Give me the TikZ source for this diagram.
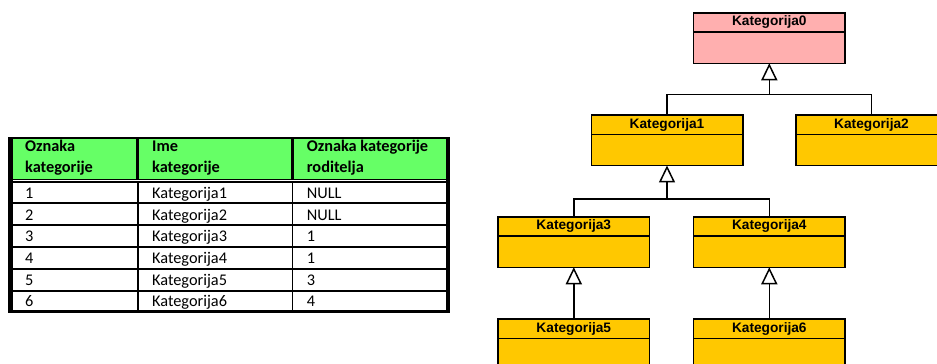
\documentclass[tikz,border=0pt]{standalone}
\usepackage{fontspec}
\setmainfont{Carlito}
\newfontfamily\arialfont{Liberation Sans}
\usetikzlibrary{arrows.meta}
\definecolor{pinkbox}{HTML}{FFAFAF}
\definecolor{goldbox}{HTML}{FFC800}
\definecolor{hdrgreen}{HTML}{66FF66}
\begin{document}
\begin{tikzpicture}[x=1pt,y=-1pt,
  umlbox/.style={draw=black, line width=1.5pt, minimum width=151.5pt, minimum height=50.5pt, inner sep=0pt, outer sep=0pt},
  umltitle/.style={font=\arialfont\bfseries\fontsize{13.7}{15}\selectfont, inner sep=0pt},
  conn/.style={draw=black, line width=1.5pt},
  gen/.style={draw=black, line width=1.5pt, -{Triangle[length=17pt,width=16pt,fill=white]}},
  cell/.style={anchor=base west, inner sep=0pt, font=\fontsize{16.3}{18}\selectfont},
  hcell/.style={cell, font=\bfseries\fontsize{16.3}{18}\selectfont}]
\useasboundingbox (0,0) rectangle (937,364);
\clip (0,0) rectangle (937,364);
\fill[white] (0,0) rectangle (937,364);

% ---------- table ----------
\fill[black] (8,136.7) rectangle (450,312.7);
\fill[hdrgreen] (13.3,139) rectangle (135.7,178.5);
\fill[hdrgreen] (139.3,139) rectangle (290.7,178.5);
\fill[hdrgreen] (294,139) rectangle (446,178.5);
\fill[white] (13.3,180.3) rectangle (446,181.3);
\foreach \ya/\yb in {183.3/202.3, 204.3/224, 226/245.7, 247.7/267.7, 269.7/289.7, 291.7/310}{
  \fill[white] (13.3,\ya) rectangle (136.7,\yb);
  \fill[white] (138.7,\ya) rectangle (291.7,\yb);
  \fill[white] (293.3,\ya) rectangle (446,\yb);
}
\node[hcell] (h1a) at (25,151) {Oznaka};
\node[hcell] (h1b) at (25,172.7) {kategorije};
\node[hcell] (h2a) at (152,151) {Ime};
\node[hcell] (h2b) at (152,172.7) {kategorije};
\node[hcell] (h3a) at (306.7,151) {Oznaka kategorije};
\node[hcell] (h3b) at (306.7,172.7) {roditelja};
\foreach \i/\n/\p in {0/1/NULL, 1/2/NULL, 2/3/1, 3/4/1, 4/5/3, 5/6/4}{
  \node[cell] (ra\n) at (25,198.3+21.7*\i) {\n};
  \node[cell] (rb\n) at (152,198.3+21.7*\i) {Kategorija\n};
  \node[cell] (rc\n) at (306.7,198.3+21.7*\i) {\p};
}

% ---------- UML boxes ----------
\foreach \nm/\cx/\cy/\col in {k0/769.3/38/pinkbox, k1/667/140.2/goldbox, k2/871.5/140.2/goldbox,
  k3/573.8/242/goldbox, k4/769.3/242/goldbox, k5/573.8/344.3/goldbox, k6/769.3/344.3/goldbox}{
  \node[umlbox, fill=\col] (\nm) at (\cx,\cy) {};
  \draw[line width=1.5pt] ([yshift=-19.3pt]\nm.north west) -- ([yshift=-19.3pt]\nm.north east);
}
\node[umltitle] (k0t) at ([yshift=-9.7pt]k0.north) {Kategorija0};
\node[umltitle] (k1t) at ([yshift=-9.7pt]k1.north) {Kategorija1};
\node[umltitle] (k2t) at ([yshift=-9.7pt]k2.north) {Kategorija2};
\node[umltitle] (k3t) at ([yshift=-9.7pt]k3.north) {Kategorija3};
\node[umltitle] (k4t) at ([yshift=-9.7pt]k4.north) {Kategorija4};
\node[umltitle] (k5t) at ([yshift=-9.7pt]k5.north) {Kategorija5};
\node[umltitle] (k6t) at ([yshift=-9.7pt]k6.north) {Kategorija6};

% ---------- connectors ----------
\coordinate (j0) at (769.3,94.7);
\coordinate (j1) at (667,199);
\draw[conn] (k1.north) |- (j0);
\draw[conn] (k2.north) |- (j0);
\draw[gen] (j0) -- (k0.south);
\draw[conn] (k3.north) |- (j1);
\draw[conn] (k4.north) |- (j1);
\draw[gen] (j1) -- (k1.south);
\draw[gen] (k5.north) -- (k3.south);
\draw[gen] (k6.north) -- (k4.south);
\end{tikzpicture}
\end{document}
